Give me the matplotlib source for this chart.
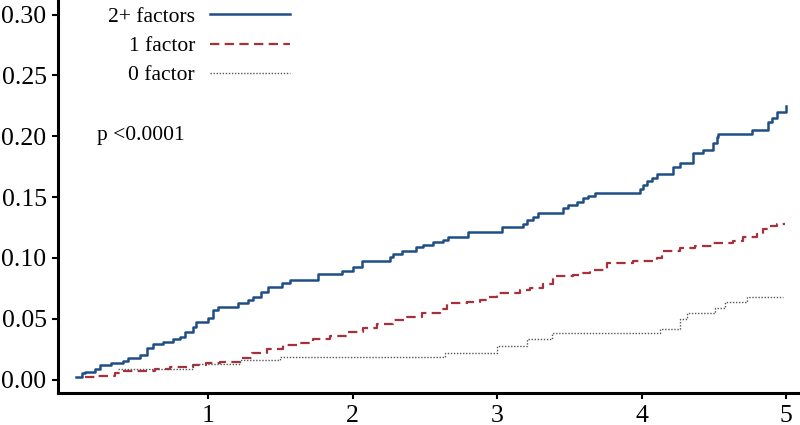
import matplotlib
matplotlib.use("Agg")
import matplotlib.pyplot as plt

plt.rcParams['font.family'] = ['Liberation Serif', 'DejaVu Serif']

# ---- data ----
t_two = [0.088, 0.123, 0.145, 0.215, 0.249, 0.330, 0.411, 0.445, 0.526, 0.573, 0.618, 0.688,
         0.757, 0.803, 0.838, 0.895, 0.919, 0.999, 1.034, 1.069, 1.207, 1.276, 1.311, 1.369,
         1.415, 1.508, 1.565, 1.761, 1.923, 2.003, 2.062, 2.258, 2.280, 2.339, 2.442, 2.488,
         2.557, 2.627, 2.661, 2.800, 3.031, 3.181, 3.204, 3.250, 3.285, 3.458, 3.492, 3.551,
         3.596, 3.631, 3.677, 3.989, 4.012, 4.035, 4.070, 4.104, 4.220, 4.266, 4.358, 4.427,
         4.497, 4.520, 4.531, 4.762, 4.877, 4.901, 4.936, 5.000]
ci_two = [0.0023, 0.005, 0.0065, 0.009, 0.012, 0.014, 0.0155, 0.0175, 0.020, 0.026, 0.029, 0.031,
          0.033, 0.035, 0.039, 0.043, 0.0475, 0.051, 0.057, 0.060, 0.0626, 0.065, 0.068, 0.0716,
          0.0757, 0.0795, 0.082, 0.0867, 0.089, 0.0927, 0.0976, 0.101, 0.103, 0.106, 0.1086, 0.111,
          0.1127, 0.115, 0.1174, 0.121, 0.1256, 0.128, 0.131, 0.1338, 0.137, 0.1407, 0.1434, 0.146,
          0.149, 0.1508, 0.1535, 0.157, 0.160, 0.1634, 0.166, 0.169, 0.1744, 0.1777, 0.1864, 0.189,
          0.1946, 0.199, 0.2017, 0.205, 0.2118, 0.2146, 0.220, 0.225]

t_one = [0.145, 0.226, 0.353, 0.400, 0.630, 0.734, 0.895, 0.988, 1.080, 1.226, 1.300, 1.404,
         1.519, 1.634, 1.726, 1.842, 1.958, 2.073, 2.166, 2.280, 2.373, 2.477, 2.604, 2.650,
         2.789, 2.881, 2.927, 2.997, 3.158, 3.227, 3.319, 3.389, 3.527, 3.573, 3.643, 3.758,
         3.943, 4.105, 4.139, 4.266, 4.370, 4.497, 4.635, 4.704, 4.797, 4.843, 4.889, 4.935, 4.990]
ci_one = [0.0017, 0.003, 0.005, 0.0072, 0.009, 0.0105, 0.0119, 0.0138, 0.0146, 0.0174, 0.0215, 0.0248,
          0.0283, 0.0297, 0.0333, 0.036, 0.0388, 0.042, 0.0456, 0.0489, 0.0516, 0.055, 0.0577, 0.0626,
          0.064, 0.0655, 0.068, 0.0708, 0.0735, 0.0754, 0.0785, 0.085, 0.0859, 0.0877, 0.090, 0.0955,
          0.0974, 0.0996, 0.1058, 0.1078, 0.1097, 0.112, 0.114, 0.1168, 0.120, 0.1234, 0.126, 0.128, 0.128]

t_zero = [0.374, 0.895, 1.219, 1.496, 2.638, 2.999, 3.204, 3.377, 4.127, 4.266, 4.312, 4.508,
          4.577, 4.728, 4.980]
ci_zero = [0.009, 0.0127, 0.0158, 0.0188, 0.0222, 0.0277, 0.0333, 0.0385, 0.0415, 0.0495, 0.0547,
           0.0585, 0.0635, 0.0675, 0.0675]

labels = ["2+ factors", "1 factor", "0 factor"]
x_ticks = [1, 2, 3, 4, 5]
y_ticks = [0.00, 0.05, 0.10, 0.15, 0.20, 0.25, 0.30]
p_text = "p <0.0001"

# ---- figure ----
fig = plt.figure(figsize=(8, 4.25), dpi=100)
ax = fig.add_axes([0.073, 0.076, 0.927, 0.924])

ax.step(t_two, ci_two, where='post', color='#1f4e85', lw=1.8, label=labels[0])
ax.step(t_one, ci_one, where='post', color='#a8303a', lw=1.6, dashes=(4.2, 2.4), label=labels[1])
ax.step(t_zero, ci_zero, where='post', color='#555555', lw=1.0, dashes=(1, 1.2), label=labels[2])

ax.set_xlim(-0.037, 5.097)
ax.set_ylim(-0.0108, 0.312)
ax.set_xticks(x_ticks)
ax.set_xticklabels([str(v) for v in x_ticks])
ax.set_yticks(y_ticks)
ax.set_yticklabels([f"{v:.2f}" for v in y_ticks])

for s in ['top', 'right']:
    ax.spines[s].set_visible(False)
for s in ['left', 'bottom']:
    ax.spines[s].set_linewidth(2.2)
ax.tick_params(axis='both', which='major', labelsize=18.5, width=1.5, length=4.5, pad=4, direction='out')

ax.text(0.229, 0.201, p_text, fontsize=15.5, va='center', ha='left')

leg = ax.legend(loc='upper right', bbox_to_anchor=(0.312, 0.983), frameon=False,
                markerfirst=False, fontsize=15.5, handlelength=3.7, handletextpad=0.7,
                labelspacing=0.43, borderpad=0, borderaxespad=0)

fig.savefig("out.png", dpi=100)
